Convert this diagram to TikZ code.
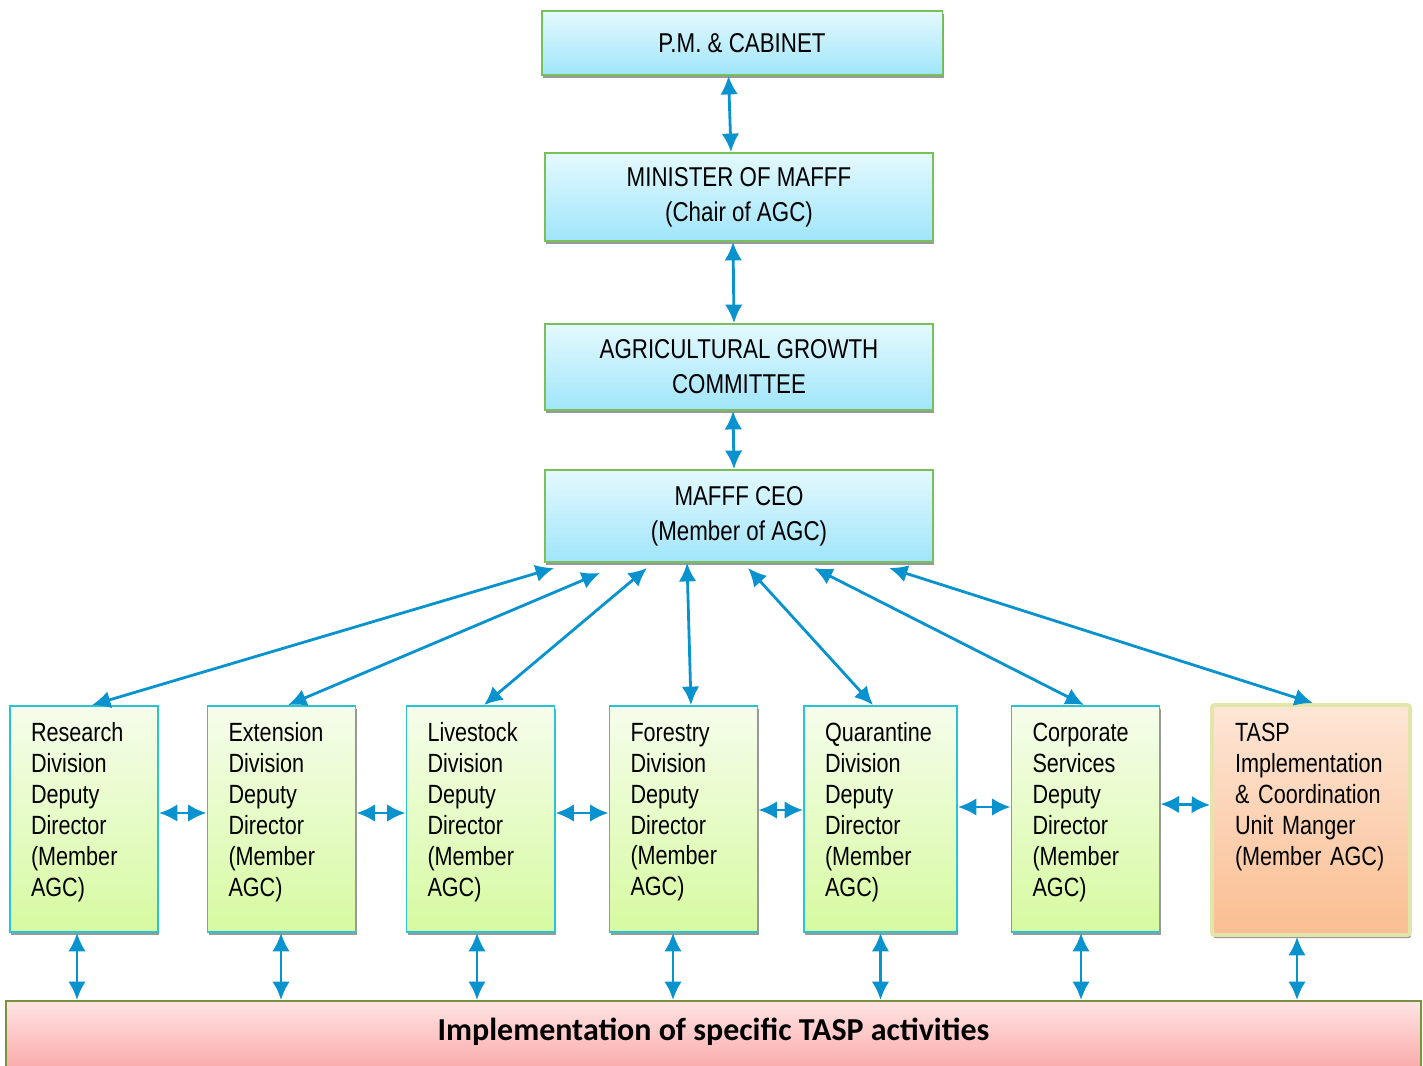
\documentclass[tikz,border=0pt]{standalone}
\usepackage{fontspec}
\setmainfont[FakeStretch=0.82]{Liberation Sans}
\newfontfamily\barfont{Carlito}
\usetikzlibrary{arrows.meta,shadows,calc}
\definecolor{linkblue}{RGB}{8,146,206}
\definecolor{topline}{RGB}{120,192,90}
\definecolor{topfillA}{RGB}{228,249,254}
\definecolor{topfillB}{RGB}{160,229,250}
\definecolor{divline}{RGB}{40,196,212}
\definecolor{divfillA}{RGB}{246,253,236}
\definecolor{divfillB}{RGB}{214,250,160}
\definecolor{taspline}{RGB}{226,230,170}
\definecolor{taspfillA}{RGB}{253,230,214}
\definecolor{taspfillB}{RGB}{250,190,145}
\definecolor{barline}{RGB}{119,147,60}
\definecolor{barfillA}{RGB}{255,228,228}
\definecolor{barfillB}{RGB}{250,160,160}
\newcommand\nohyph{\hyphenpenalty=10000\relax}
\tikzset{
	link/.style={{Latex[length=10.5pt,width=10pt]}-{Latex[length=10.5pt,width=10pt]}, draw=linkblue, line width=1.6pt},
	boxshadow/.style={drop shadow={shadow xshift=0.6pt, shadow yshift=-1.8pt, fill=black!40, opacity=1}},
	topbox/.style={rectangle, draw=topline, line width=1.1pt, top color=topfillA, bottom color=topfillB, boxshadow, align=center, font=\fontsize{15.5}{20}\selectfont},
	divbox/.style={rectangle, draw=divline, line width=1.1pt, top color=divfillA, bottom color=divfillB, boxshadow, align=left, text width=2.12cm, inner xsep=0.42cm, minimum height=4.52cm, font=\fontsize{15}{17.6}\selectfont\nohyph},
	taspbox/.style={rectangle, draw=taspline, line width=2.2pt, rounded corners=1.5pt, top color=taspfillA, bottom color=taspfillB, boxshadow, align=left, text width=3.04cm, inner xsep=0.46cm, minimum height=4.6cm, font=\fontsize{15}{17.6}\selectfont\nohyph},
	barbox/.style={rectangle, anchor=north, draw=barline, line width=1.1pt, top color=barfillA, bottom color=barfillB, minimum width=28.3cm, inner ysep=0pt, text height=0.8cm, text depth=0.8cm, font=\barfont\bfseries\fontsize{18.2}{20}\selectfont}
}
\begin{document}
\begin{tikzpicture}[x=0.02cm, y=-0.02cm]
	\useasboundingbox (0,0) rectangle (1423,1065);
	\node[topbox, minimum width=8.02cm, minimum height=1.28cm] (pm) at (742,43) {P.M. \& CABINET};
	\node[topbox, minimum width=7.76cm, minimum height=1.76cm] (min) at (739,197) {MINISTER OF MAFFF\\(Chair of AGC)};
	\node[topbox, minimum width=7.76cm, minimum height=1.72cm] (agc) at (739,367) {AGRICULTURAL GROWTH\\COMMITTEE};
	\node[topbox, minimum width=7.76cm, minimum height=1.84cm] (ceo) at (739,516) {MAFFF CEO\\(Member of AGC)};
	
	% divisions
	\node[divbox] (res) at (84,819) {Research\\Division\\Deputy\\Director\\(Member\\AGC)\\[-0.24cm]\mbox{}};
	\node[divbox] (ext) at (281.5,819) {Extension\\Division\\Deputy\\Director\\(Member\\AGC)\\[-0.24cm]\mbox{}};
	\node[divbox] (liv) at (480.5,819) {Livestock\\Division\\Deputy\\Director\\(Member\\AGC)\\[-0.24cm]\mbox{}};
	\node[divbox] (fore) at (683.5,819) {Forestry\\Division\\Deputy\\Director\\(Member\\AGC)\\[-0.24cm]\mbox{}};
	\node[divbox, text width=2.22cm] (quar) at (880.5,819) {Quarantine\\Division\\Deputy\\Director\\(Member\\AGC)\\[-0.24cm]\mbox{}};
	\node[divbox] (corp) at (1085.5,819) {Corporate\\Services\\Deputy\\Director\\(Member\\AGC)\\[-0.24cm]\mbox{}};
	\node[taspbox] (tasp) at (1311,820) {TASP\\Implementation\\\& Coordination\\Unit Manger\\(Member AGC)\\[0.4cm]\mbox{}};
	
	\node[barbox] (bar) at (713.5,1000) {Implementation of specific TASP activities};
	
	% chain of command
	\draw[link] ([xshift=-0.27cm]pm.south) -- ([xshift=-0.16cm]min.north);
	\draw[link] ([xshift=-0.12cm]min.south) -- ([xshift=-0.1cm]agc.north);
	\draw[link] ([xshift=-0.12cm]agc.south) -- ([xshift=-0.1cm]ceo.north);
	
	\foreach \d/\sx/\sy/\ex in {res/0.2/-0.1/0.16, ext/1.12/-0.2/0.13, liv/2.06/-0.1/0.07, fore/2.86/0/0.15, quar/4.08/-0.1/-0.15, corp/5.4/-0.1/-0.03, tasp/6.9/-0.1/0.04}
		\draw[link] ([xshift=\sx cm, yshift=\sy cm]ceo.south west) -- ([xshift=\ex cm]\d.north);
	
	\foreach \a/\b/\dy in {res/ext/0.12, ext/liv/0.12, liv/fore/0.12, fore/quar/0.18, quar/corp/0.24, corp/tasp/0.3}
		\draw[link] ([yshift=\dy cm]\a.east) -- ([yshift=\dy cm]\b.west);
	
	\foreach \d/\dx in {res/-0.14, ext/-0.01, liv/-0.07, fore/-0.21, quar/0, corp/-0.09, tasp/-0.28}{
		\coordinate (\d-b) at ([xshift=\dx cm]\d.south);
		\draw[link] (\d-b) -- (\d-b |- bar.north);
	}
\end{tikzpicture}
\end{document}
